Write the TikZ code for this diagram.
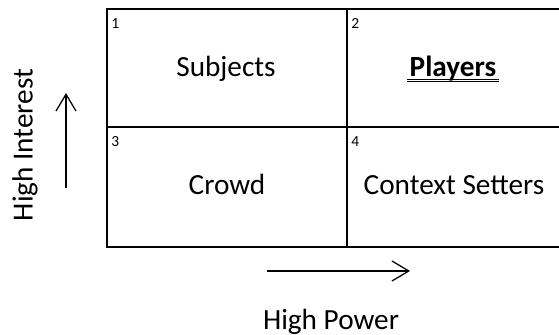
\documentclass[tikz,border=0pt]{standalone}
\usepackage{fontspec}
\setmainfont{Carlito}
\usetikzlibrary{arrows.meta}
\tikzstyle{quadtext} = [inner sep=0pt,anchor=base,font=\fontsize{20.8}{25}\selectfont]
\tikzstyle{cellnum} = [inner sep=0pt,anchor=base west,font=\fontsize{11}{13}\selectfont]
\tikzstyle{gridline} = [line width=1.4pt]
\tikzstyle{axisarrow} = [line width=0.9pt,-{Straight Barb[length=0.42cm,width=0.5cm]}]
\tikzstyle{underline} = [line width=0.6pt]
\begin{document}
\begin{tikzpicture}
\useasboundingbox (0,0) rectangle (13.975,8.375);
% grid
\coordinate (nw) at (2.675,8.15);
\coordinate (n) at (8.675,8.15);
\coordinate (ne) at (13.975,8.15);
\coordinate (w) at (2.675,5.2);
\coordinate (e) at (13.975,5.2);
\coordinate (sw) at (2.675,2.2);
\coordinate (s) at (8.675,2.2);
\coordinate (se) at (13.975,2.2);
\draw[gridline] (ne) -- (nw) -- (sw) -- (se);
\draw[gridline] (w) -- (e);
\draw[gridline] (n) -- (s);
% quadrants
\node[cellnum] (num1) at (2.775,7.65) {1};
\node[cellnum] (num2) at (8.775,7.65) {2};
\node[cellnum] (num3) at (2.775,4.7) {3};
\node[cellnum] (num4) at (8.775,4.7) {4};
\node[quadtext] (subjects) at (5.65,6.45) {Subjects};
\node[quadtext,inner xsep=1.5pt] (players) at (11.325,6.45) {\bfseries Players};
\node[quadtext] (crowd) at (5.675,3.5) {Crowd};
\node[quadtext] (setters) at (11.35,3.5) {Context Setters};
\draw[underline] ([yshift=-1.4pt]players.base west) -- ([yshift=-1.4pt]players.base east);
\draw[underline] ([yshift=-3.4pt]players.base west) -- ([yshift=-3.4pt]players.base east);
% axes
\node[rotate=90,font=\fontsize{20.8}{25}\selectfont] (interest) at (0.625,4.75) {High Interest};
\node[quadtext] (power) at (8.275,0.13) {High Power};
\coordinate (interest tail) at (1.65,3.675);
\coordinate (interest head) at (1.65,6.05);
\draw[axisarrow] (interest tail) -- (interest head);
\coordinate (power tail) at (6.675,1.6);
\coordinate (power head) at (10.25,1.6);
\draw[axisarrow] (power tail) -- (power head);
\end{tikzpicture}
\end{document}
